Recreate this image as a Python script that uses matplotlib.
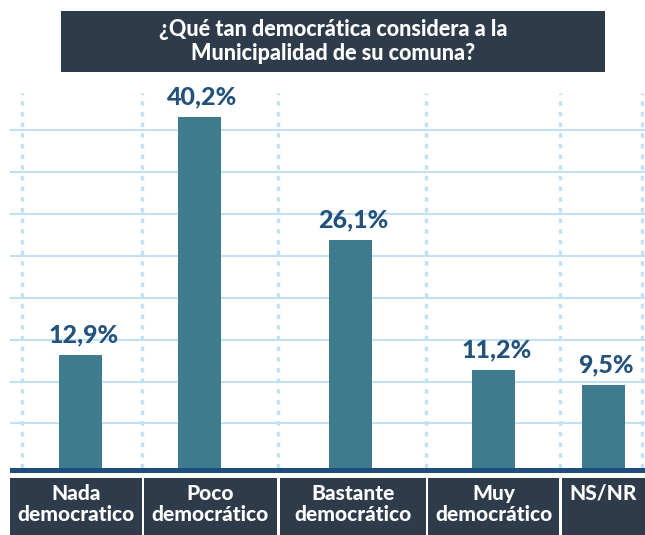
import matplotlib.pyplot as plt

# data
categories = ["Nada\ndemocratico", "Poco\ndemocrático", "Bastante\ndemocrático",
              "Muy\ndemocrático", "NS/NR"]
values = [12.9, 40.2, 26.1, 11.2, 9.5]
title = "¿Qué tan democrática considera a la\nMunicipalidad de su comuna?"

# layout (pixel units of the 645x535 canvas)
W, H = 645, 535
PX = 8.73  # pixels per percent point
bar_x = [80.5, 199.5, 350.5, 493.5, 603.5]
box_left = [10, 144, 280, 428, 562]
box_right = [142, 277, 426, 559, 645]
vlines_x = [22, 142, 278, 426, 560, 642]
grid_y = [5.1 + 4.8 * i for i in range(8)]

DARK = "#2e3b4a"
BAR = "#3e7b8c"
LABEL = "#23527c"
GRID = "#c2e1f6"
BASE = "#1f4d7e"
FONT = "Lato"
WEIGHT = "black"


def frac(x0, y0, x1, y1):
    return [x0 / W, 1 - y1 / H, (x1 - x0) / W, (y1 - y0) / H]


fig = plt.figure(figsize=(W / 100, H / 100), dpi=100)

# main plot
ax = fig.add_axes(frac(0, 88, W, 473))
ax.set_xlim(0, W)
ax.set_ylim(-5 / PX, 380 / PX)
ax.axis("off")

ax.hlines(grid_y, 10, W, color=GRID, linewidth=1.5, zorder=1)
for x in vlines_x:
    ax.plot([x, x], [0, 375 / PX], color=GRID, linewidth=2.4,
            dashes=(1.4, 1.8), solid_capstyle="butt", dash_capstyle="butt", zorder=1)

ax.bar(bar_x, values, width=43, color=BAR, zorder=2)
ax.axhspan(-5 / PX, 0, xmin=10 / W, xmax=1, color=BASE, zorder=3, linewidth=0)

for x, v in zip(bar_x, values):
    ax.annotate(f"{v:.1f}%".replace(".", ","), (x, v), xytext=(2, 9.4),
                textcoords="offset points", ha="center", va="baseline",
                fontsize=18, fontweight=WEIGHT, color=LABEL, family=FONT, zorder=4)

# category boxes
ax_lab = fig.add_axes(frac(0, 478, W, H))
ax_lab.set_xlim(0, W)
ax_lab.set_ylim(57, 0)
ax_lab.axis("off")
centers = [(l + r) / 2 for l, r in zip(box_left, box_right)]
widths = [r - l for l, r in zip(box_left, box_right)]
ax_lab.bar(centers, 57, width=widths, bottom=0, color=DARK)
for c, lab in zip(centers, categories):
    ax_lab.text(c, 6, lab, ha="center", va="top", color="white", fontsize=15,
                fontweight=WEIGHT, family=FONT, linespacing=1.15)

# title box
ax_t = fig.add_axes(frac(61, 11, 605, 72))
ax_t.set_facecolor(DARK)
ax_t.set_xticks([])
ax_t.set_yticks([])
for s in ax_t.spines.values():
    s.set_visible(False)
ax_t.text(0.5, 0.5, title, transform=ax_t.transAxes, ha="center", va="center",
          color="white", fontsize=15.5, fontweight=WEIGHT, family=FONT, linespacing=1.15)

fig.savefig("out.png", dpi=100)
